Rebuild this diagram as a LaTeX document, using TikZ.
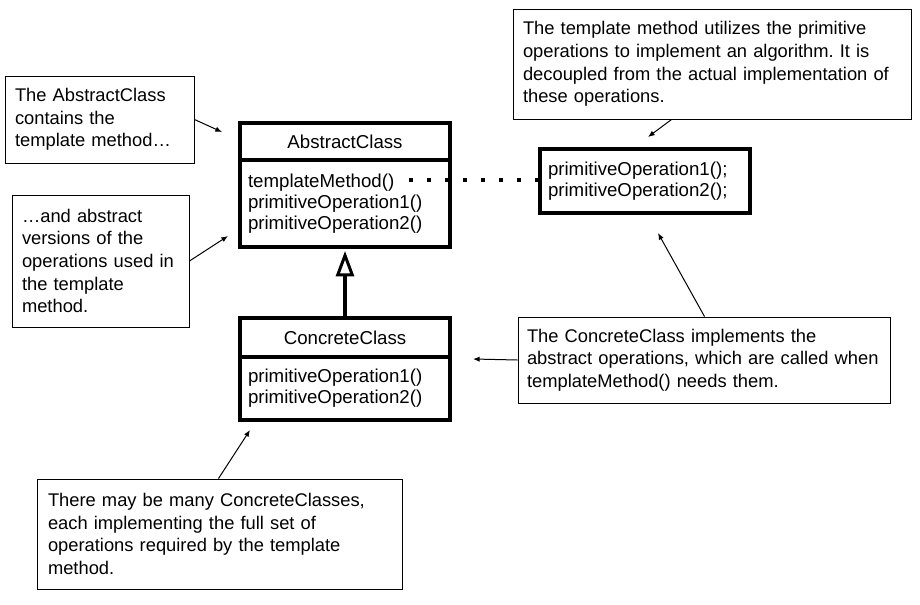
\documentclass[tikz,border=0pt]{standalone}
\usepackage{fontspec}
\setmainfont{Liberation Sans}
\usetikzlibrary{arrows.meta}
\frenchspacing
\begin{document}
\begin{tikzpicture}[x=0.75pt,y=-0.75pt,
  notefont/.style={font=\fontsize{13.75pt}{17pt}\selectfont\frenchspacing},
  clsfont/.style={font=\fontsize{14pt}{15.75pt}\selectfont},
  note/.style={draw, line width=0.75pt, inner xsep=7.5pt, inner ysep=0pt, align=left, notefont},
  clsbox/.style={draw, line width=3pt, inner ysep=0pt, clsfont},
  clsbody/.style={clsbox, align=left, inner xsep=6pt, text width=145.5pt},
  notearrow/.style={line width=0.75pt, -{Latex[length=5pt,width=4pt]}},
  inherit/.style={line width=3pt, -{Triangle[open,length=19pt,width=13.5pt,line width=2.25pt]}},
  dotline/.style={line width=3pt, dash pattern=on 3pt off 10.5pt}]
\useasboundingbox (0,0) rectangle (920,604);

% notes
\node[note, minimum width=141.75pt, minimum height=65.25pt, text width=126.75pt] (n1) at (99.5,119.5)
  {\mbox{The AbstractClass}\\\mbox{contains the}\\\mbox{template method…}};
\node[note, minimum width=132.75pt, minimum height=99pt, text width=117.75pt] (n2) at (100.5,261)
  {\mbox{…and abstract}\\\mbox{versions of the}\\\mbox{operations used in}\\\mbox{the template}\\\mbox{method.}};
\node[note, minimum width=298.5pt, minimum height=82.5pt, text width=283.5pt] (n3) at (712,64)
  {\mbox{The template method utilizes the primitive}\\\mbox{operations to implement an algorithm. It is}\\\mbox{decoupled from the actual implementation of}\\\mbox{these operations.}};
\node[note, inner xsep=6.75pt, minimum width=279pt, minimum height=64.5pt, text width=265.5pt] (n4) at (704,360)
  {\mbox{The ConcreteClass implements the}\\\mbox{abstract operations, which are called when}\\\mbox{templateMethod() needs them.}};
\node[note, inner xsep=8.25pt, minimum width=273.75pt, minimum height=82.5pt, text width=257.25pt] (n5) at (219.5,534)
  {\mbox{There may be many ConcreteClasses,}\\\mbox{each implementing the full set of}\\\mbox{operations required by the template}\\\mbox{method.}};

% classes
\node[clsbox, minimum width=157.5pt, minimum height=27.75pt] (ach) at (345,141.5) {AbstractClass};
\node[clsbody, minimum width=157.5pt, minimum height=65.25pt] (acb) at (345,203.5)
  {templateMethod()\\primitiveOperation1()\\primitiveOperation2()};
\node[clsbox, minimum width=157.5pt, minimum height=29.25pt] (cch) at (345,337.5) {ConcreteClass};
\node[clsbody, minimum width=157.5pt, minimum height=47.25pt] (ccb) at (345,388.5)
  {primitiveOperation1()\\primitiveOperation2()};
\node[clsbody, minimum width=157.5pt, minimum height=48pt] (prim) at (645,181)
  {primitiveOperation1();\\primitiveOperation2();};

% connectors
\draw[inherit] (cch.north) -- ([yshift=-1.5pt]acb.south);
\coordinate (dotstart) at (409,180);
\draw[dotline] (dotstart) -- (dotstart -| prim.west);

\coordinate (e1) at (222,132);
\coordinate (e2) at (228,236);
\coordinate (e3) at (648,137);
\coordinate (e4) at (658,233);
\coordinate (e5) at (473,359);
\coordinate (e6) at (250,430);
\draw[notearrow] (n1.east) -- (e1);
\draw[notearrow] (n2.east) -- (e2);
\draw[notearrow] ([xshift=119.25pt]n3.south west) -- (e3);
\draw[notearrow] ([xshift=140.25pt]n4.north west) -- (e4);
\draw[notearrow] (n4.west) -- (e5);
\draw[notearrow] ([xshift=136.5pt]n5.north west) -- (e6);
\end{tikzpicture}
\end{document}
